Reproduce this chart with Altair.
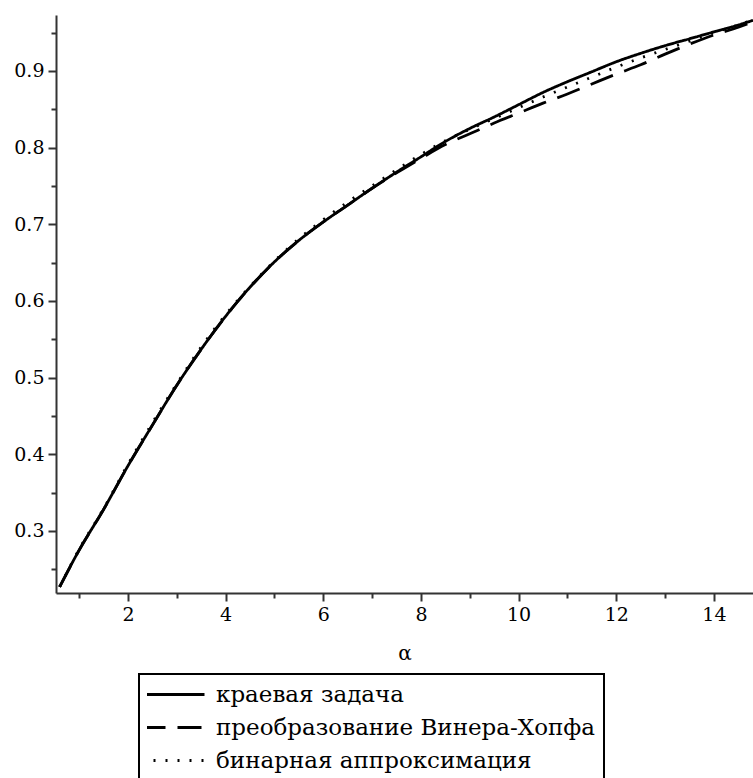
import altair as alt
import pandas as pd

# values
alpha = [0.6, 1.0, 1.5, 2.0, 2.5, 3.0, 3.5, 4.0, 4.5, 5.0, 5.5, 6.0, 6.5, 7.0, 7.5,
         8.0, 8.5, 9.0, 9.5, 10.0, 10.5, 11.0, 11.5, 12.0, 12.5, 13.0, 13.5, 14.0, 14.5, 14.8]
kraevaya = [0.227, 0.275, 0.328, 0.385, 0.438, 0.490, 0.537, 0.580, 0.618, 0.651, 0.679, 0.703,
            0.725, 0.747, 0.768, 0.788, 0.808, 0.825, 0.840, 0.856, 0.872, 0.886, 0.899, 0.912,
            0.923, 0.933, 0.942, 0.951, 0.960, 0.966]
viner_hopf = [0.227, 0.275, 0.328, 0.385, 0.438, 0.490, 0.537, 0.580, 0.618, 0.651, 0.679, 0.703,
              0.725, 0.747, 0.767, 0.786, 0.804, 0.818, 0.832, 0.845, 0.858, 0.870, 0.883, 0.896,
              0.908, 0.922, 0.935, 0.947, 0.957, 0.964]
binarnaya = [0.227, 0.276, 0.329, 0.387, 0.441, 0.492, 0.540, 0.582, 0.619, 0.652, 0.681, 0.706,
             0.729, 0.750, 0.771, 0.791, 0.809, 0.824, 0.838, 0.852, 0.866, 0.879, 0.892, 0.905,
             0.917, 0.928, 0.939, 0.950, 0.960, 0.967]

series_names = ["краевая задача", "преобразование Винера-Хопфа", "бинарная аппроксимация"]
x_major = [2, 4, 6, 8, 10, 12, 14]
x_minor = [1, 3, 5, 7, 9, 11, 13]
y_major = [0.3, 0.4, 0.5, 0.6, 0.7, 0.8, 0.9]
y_minor = [0.25, 0.35, 0.45, 0.55, 0.65, 0.75, 0.85, 0.95]

rows = []
for name, vals in zip(series_names, [kraevaya, viner_hopf, binarnaya]):
    for a, v in zip(alpha, vals):
        rows.append({"alpha": a, "value": v, "series": name})
df = pd.DataFrame(rows)

FONT = "DejaVu Serif"
xscale = alt.Scale(domain=[0.5255, 14.80], nice=False, zero=False)
yscale = alt.Scale(domain=[0.219, 0.973], nice=False, zero=False)

lines = alt.Chart(df).mark_line(color="black", strokeWidth=2.8, interpolate="monotone", clip=True).encode(
    x=alt.X("alpha:Q", scale=xscale, title="α",
            axis=alt.Axis(orient="bottom", values=x_major, tickSize=8, format="d",
                          titleY=60, titleBaseline="middle")),
    y=alt.Y("value:Q", scale=yscale, title=None,
            axis=alt.Axis(orient="left", values=y_major, tickSize=8, format=".1f")),
    strokeDash=alt.StrokeDash(
        "series:N",
        scale=alt.Scale(domain=series_names, range=[[1, 0], [24, 12], [2, 10]]),
        legend=alt.Legend(orient="none", legendX=83, legendY=659, title=None,
                          symbolType="stroke", symbolSize=3969, symbolStrokeWidth=2.8,
                          symbolStrokeColor="black", symbolOffset=-7,
                          clipHeight=25, rowPadding=8, padding=8,
                          labelFont=FONT, labelFontSize=23, labelColor="black",
                          labelLimit=0, labelOffset=10,
                          strokeColor="black", fillColor="white", cornerRadius=0,
                          direction="vertical"),
    ),
    order=alt.Order("alpha:Q"),
)

minor = alt.Chart(df).mark_point(opacity=0).encode(
    x=alt.X("alpha:Q", scale=xscale, title=None,
            axis=alt.Axis(orient="bottom", values=x_minor, tickSize=5, labels=False, domain=False)),
    y=alt.Y("value:Q", scale=yscale, title=None,
            axis=alt.Axis(orient="left", values=y_minor, tickSize=5, labels=False, domain=False)),
)

chart = alt.layer(lines, minor).resolve_scale(x="shared", y="shared").resolve_axis(
    x="independent", y="independent"
).properties(
    width=697, height=578,
    autosize=alt.AutoSizeParams(type="none"),
    padding={"left": 56, "top": 15, "right": 0, "bottom": 185},
).configure_view(stroke=None).configure_axis(
    grid=False, domainColor="#333333", domainWidth=2, tickColor="#333333", tickWidth=2,
    labelFont=FONT, labelFontSize=19, labelColor="black", labelPadding=4,
    titleFont=FONT, titleFontSize=20, titleFontWeight="normal", titleColor="black",
).configure_legend(strokeWidth=2)

chart.save("out.html", embed_options={"renderer": "svg", "actions": False})
